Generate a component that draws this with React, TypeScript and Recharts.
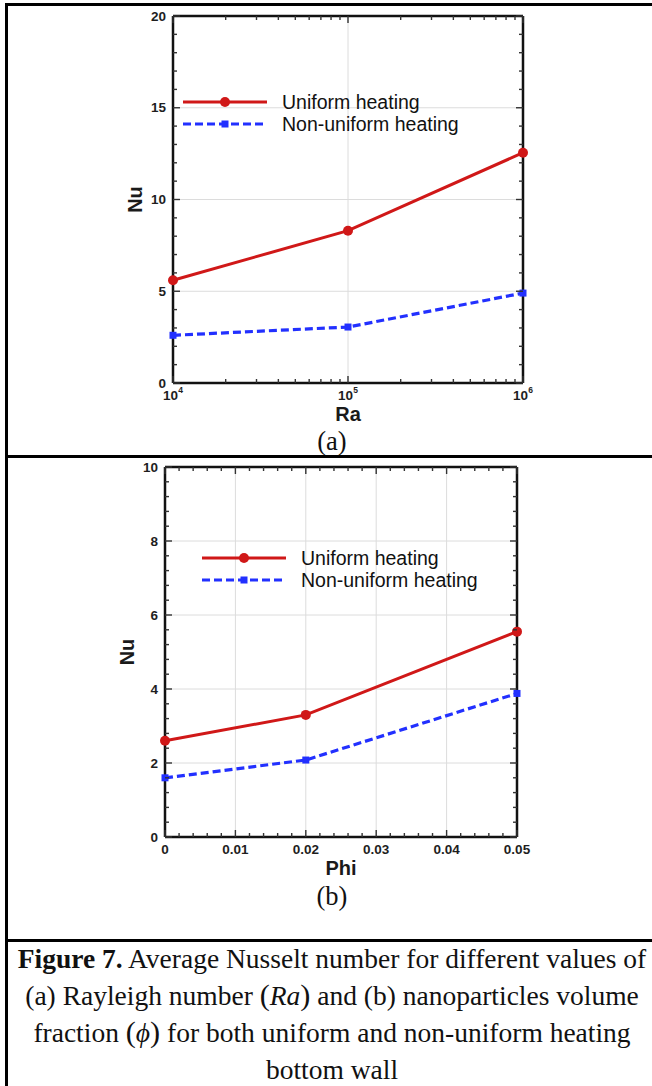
import React from 'react';
import { LineChart, Line, XAxis, YAxis, CartesianGrid, Legend } from 'recharts';

// panel (a): Nu vs Ra
const raValues = [1e4, 1e5, 1e6];
const nuUniformRa = [5.6, 8.3, 12.55];
const nuNonUniformRa = [2.6, 3.05, 4.9];

// panel (b): Nu vs Phi
const phiValues = [0, 0.02, 0.05];
const nuUniformPhi = [2.6, 3.3, 5.55];
const nuNonUniformPhi = [1.6, 2.08, 3.88];

// ticks
const raMajorTicks = [1e4, 1e5, 1e6];
const raMinorTicks = [2e4, 3e4, 4e4, 5e4, 6e4, 7e4, 8e4, 9e4, 2e5, 3e5, 4e5, 5e5, 6e5, 7e5, 8e5, 9e5];
const nuMajorTicksA = [0, 5, 10, 15, 20];
const nuMinorTicksA = [1, 2, 3, 4, 6, 7, 8, 9, 11, 12, 13, 14, 16, 17, 18, 19];
const phiMajorTicks = [0, 0.01, 0.02, 0.03, 0.04, 0.05];
const phiMinorTicks = [
  0.002, 0.004, 0.006, 0.008, 0.012, 0.014, 0.016, 0.018, 0.022, 0.024,
  0.026, 0.028, 0.032, 0.034, 0.036, 0.038, 0.042, 0.044, 0.046, 0.048,
];
const nuMajorTicksB = [0, 2, 4, 6, 8, 10];
const nuMinorTicksB = [
  0.4, 0.8, 1.2, 1.6, 2.4, 2.8, 3.2, 3.6, 4.4, 4.8,
  5.2, 5.6, 6.4, 6.8, 7.2, 7.6, 8.4, 8.8, 9.2, 9.6,
];
const raGrid = [1e5];
const nuGridA = [5, 10, 15];
const phiGrid = [0.01, 0.02, 0.03, 0.04];
const nuGridB = [2, 4, 6, 8];

const seriesNames = ['Uniform heating', 'Non-uniform heating'];

const RED = '#d01818';
const BLUE = '#2230ff';
const SANS = '"Liberation Sans", Arial, sans-serif';
const SERIF = '"Liberation Serif", "Times New Roman", serif';

const dataA = raValues.map((x, i) => ({ x, uniform: nuUniformRa[i], nonUniform: nuNonUniformRa[i] }));
const dataB = phiValues.map((x, i) => ({ x, uniform: nuUniformPhi[i], nonUniform: nuNonUniformPhi[i] }));

type Side = 'bottom' | 'top' | 'left' | 'right';

const isIn = (list: number[], v: number) =>
  list.some((m) => Math.abs(m - v) <= Math.abs(m) * 1e-6 + 1e-9);

function makeTick(side: Side, majors: number[], format?: (v: number) => React.ReactNode) {
  return (props: any) => {
    const { x, y, payload } = props;
    const v = payload.value;
    const major = isIn(majors, v);
    const len = major ? 7 : 4;
    let x2 = x;
    let y2 = y;
    if (side === 'bottom') y2 = y - len;
    if (side === 'top') y2 = y + len;
    if (side === 'left') x2 = x + len;
    if (side === 'right') x2 = x - len;
    const textProps = { fontFamily: SANS, fontWeight: 700, fontSize: 13.5, fill: '#1e1e1e' };
    return (
      <g>
        <line x1={x} y1={y} x2={x2} y2={y2} stroke="#333" strokeWidth={1.4} />
        {major && format && side === 'bottom' && (
          <text x={x} y={y + 12} textAnchor="middle" dominantBaseline="central" {...textProps}>
            {format(v)}
          </text>
        )}
        {major && format && side === 'left' && (
          <text x={x - 7} y={y} textAnchor="end" dominantBaseline="central" {...textProps}>
            {format(v)}
          </text>
        )}
      </g>
    );
  };
}

const powerLabel = (v: number) => (
  <>
    <tspan>10</tspan>
    <tspan dy={-5} fontSize={8.5}>{Math.round(Math.log10(v))}</tspan>
  </>
);
const phiLabel = (v: number) => (v === 0 ? '0' : v.toFixed(2));
const plainLabel = (v: number) => String(v);

const SquareDot = (p: any) => (
  <rect key={`sq-${p.index}`} x={p.cx - 3.5} y={p.cy - 3.5} width={7} height={7} fill={BLUE} />
);

const renderLegend = () => (
  <div>
    {seriesNames.map((name, i) => (
      <div key={name} style={{ display: 'flex', alignItems: 'center', height: 22 }}>
        <svg width={84} height={12}>
          <line
            x1={0}
            y1={6}
            x2={84}
            y2={6}
            stroke={i === 0 ? RED : BLUE}
            strokeWidth={3}
            strokeDasharray={i === 0 ? undefined : '8 4'}
          />
          {i === 0 ? <circle cx={42} cy={6} r={5} fill={RED} /> : <rect x={38.5} y={2.5} width={7} height={7} fill={BLUE} />}
        </svg>
        <span style={{ marginLeft: 15, fontFamily: SANS, fontSize: 19.5, color: '#111', whiteSpace: 'nowrap' }}>{name}</span>
      </div>
    ))}
  </div>
);

interface PanelProps {
  data: { x: number; uniform: number; nonUniform: number }[];
  height: number;
  margin: { top: number; right: number; bottom: number; left: number };
  topHeight: number;
  yWidth: number;
  xScale: 'log' | 'linear';
  xDomain: [number, number];
  xMajor: number[];
  xMinor: number[];
  xFormat: (v: number) => React.ReactNode;
  xGrid: number[];
  xTitle: string;
  yDomain: [number, number];
  yMajor: number[];
  yMinor: number[];
  yGrid: number[];
  legendPos: { left: number; top: number };
}

const axisLine = { stroke: '#111', strokeWidth: 2.5 };
const titleProps = { fill: '#1a1a1a', fontSize: 20, fontWeight: 700, fontFamily: SANS };

function Panel(p: PanelProps) {
  const xTicks = [...p.xMajor, ...p.xMinor];
  const yTicks = [...p.yMajor, ...p.yMinor];
  return (
    <LineChart width={652} height={p.height} data={p.data} margin={p.margin}>
      <CartesianGrid
        xAxisId="b"
        yAxisId="l"
        stroke="#dcdcdc"
        strokeWidth={1}
        verticalValues={p.xGrid}
        horizontalValues={p.yGrid}
      />
      <XAxis
        xAxisId="b"
        dataKey="x"
        type="number"
        scale={p.xScale}
        domain={p.xDomain}
        ticks={xTicks}
        interval={0}
        tickSize={0}
        tickMargin={0}
        tickLine={false}
        axisLine={axisLine}
        tick={makeTick('bottom', p.xMajor, p.xFormat)}
        height={56}
        label={{ value: p.xTitle, position: 'center', dy: 3, ...titleProps }}
      />
      <XAxis
        xAxisId="t"
        dataKey="x"
        orientation="top"
        type="number"
        scale={p.xScale}
        domain={p.xDomain}
        allowDataOverflow
        ticks={xTicks}
        interval={0}
        tickSize={0}
        tickMargin={0}
        tickLine={false}
        axisLine={axisLine}
        tick={makeTick('top', p.xMajor)}
        height={p.topHeight}
      />
      <YAxis
        yAxisId="l"
        type="number"
        domain={p.yDomain}
        ticks={yTicks}
        interval={0}
        tickSize={0}
        tickMargin={0}
        tickLine={false}
        axisLine={axisLine}
        tick={makeTick('left', p.yMajor, plainLabel)}
        width={p.yWidth}
        label={{ value: 'Nu', angle: -90, position: 'center', ...titleProps }}
      />
      <YAxis
        yAxisId="r"
        dataKey="uniform"
        orientation="right"
        type="number"
        domain={p.yDomain}
        allowDataOverflow
        ticks={yTicks}
        interval={0}
        tickSize={0}
        tickMargin={0}
        tickLine={false}
        axisLine={axisLine}
        tick={makeTick('right', p.yMajor)}
        width={10}
      />
      <Legend
        layout="vertical"
        align="center"
        verticalAlign="middle"
        width={320}
        height={44}
        wrapperStyle={{ left: p.legendPos.left, top: p.legendPos.top }}
        content={renderLegend}
      />
      <Line
        xAxisId="b"
        yAxisId="l"
        name={seriesNames[0]}
        dataKey="uniform"
        type="linear"
        stroke={RED}
        strokeWidth={3}
        dot={{ r: 5, fill: RED, stroke: RED, strokeWidth: 0 }}
        isAnimationActive={false}
      />
      <Line
        xAxisId="b"
        yAxisId="l"
        name={seriesNames[1]}
        dataKey="nonUniform"
        type="linear"
        stroke={BLUE}
        strokeWidth={3.2}
        strokeDasharray="8 4"
        dot={SquareDot}
        isAnimationActive={false}
      />
    </LineChart>
  );
}

const rule = (left: number, top: number, width: number, height: number) => (
  <div style={{ position: 'absolute', left, top, width, height, background: '#000' }} />
);

const serifText: React.CSSProperties = {
  position: 'absolute',
  left: 14,
  width: 636,
  textAlign: 'center',
  fontFamily: SERIF,
  fontSize: 27.5,
  lineHeight: '37px',
  color: '#111',
  whiteSpace: 'nowrap',
};

export default function App() {
  return (
    <div style={{ position: 'absolute', left: 0, top: 0, width: 652, height: 1086, background: '#fff', overflow: 'hidden' }}>
      <div style={{ position: 'absolute', left: 0, top: 0 }}>
        <Panel
          data={dataA}
          height={455}
          margin={{ top: 6, right: 119, bottom: 16, left: 96 }}
          topHeight={10}
          yWidth={77}
          xScale="log"
          xDomain={[1e4, 1e6]}
          xMajor={raMajorTicks}
          xMinor={raMinorTicks}
          xFormat={powerLabel}
          xGrid={raGrid}
          xTitle="Ra"
          yDomain={[0, 20]}
          yMajor={nuMajorTicksA}
          yMinor={nuMinorTicksA}
          yGrid={nuGridA}
          legendPos={{ left: 183, top: 91 }}
        />
      </div>
      <div style={{ position: 'absolute', left: 0, top: 457 }}>
        <Panel
          data={dataB}
          height={460}
          margin={{ top: 6, right: 125, bottom: 24, left: 89 }}
          topHeight={4}
          yWidth={76}
          xScale="linear"
          xDomain={[0, 0.05]}
          xMajor={phiMajorTicks}
          xMinor={phiMinorTicks}
          xFormat={phiLabel}
          xGrid={phiGrid}
          xTitle="Phi"
          yDomain={[0, 10]}
          yMajor={nuMajorTicksB}
          yMinor={nuMinorTicksB}
          yGrid={nuGridB}
          legendPos={{ left: 202, top: 90 }}
        />
      </div>

      <div style={{ ...serifText, fontSize: 26.5, top: 423 }}>(a)</div>
      <div style={{ ...serifText, fontSize: 26.5, top: 878 }}>(b)</div>

      <div style={{ ...serifText, top: 940 }}>
        <b>Figure 7.</b> Average Nusselt number for different values of
      </div>
      <div style={{ ...serifText, top: 977 }}>
        (a) Rayleigh number <span style={{ fontSize: '1.1em' }}>(</span>
        <i>Ra</i>
        <span style={{ fontSize: '1.1em' }}>)</span> and (b) nanoparticles volume
      </div>
      <div style={{ ...serifText, top: 1014 }}>
        fraction <span style={{ fontSize: '1.1em' }}>(</span>
        <i>ϕ</i>
        <span style={{ fontSize: '1.1em' }}>)</span> for both uniform and non-uniform heating
      </div>
      <div style={{ ...serifText, top: 1051 }}>bottom wall</div>

      {rule(5, 3, 647, 3)}
      {rule(5, 3, 3, 1083)}
      {rule(5, 455, 647, 3)}
      {rule(5, 939, 647, 3)}
    </div>
  );
}
